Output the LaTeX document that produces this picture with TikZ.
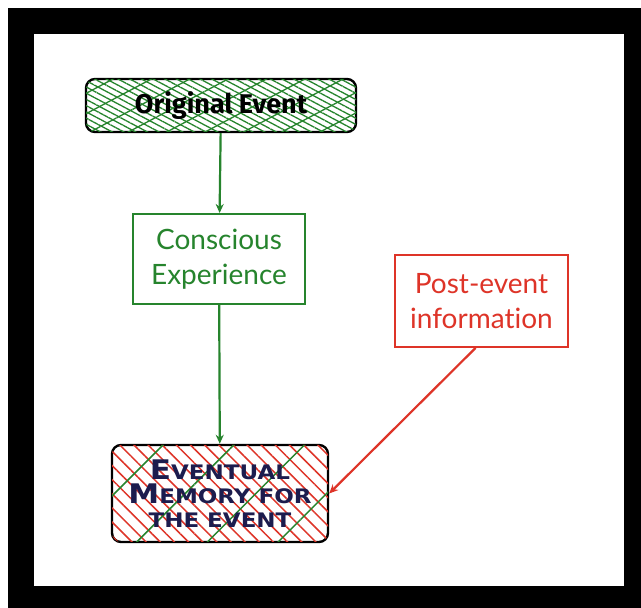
\documentclass[tikz,border=0pt]{standalone}
\usepackage{fontspec}
\setmainfont{Lato}[Ligatures=NoCommon]
\newfontfamily\headfont{Fira Sans}
\newfontfamily\capsfont{DejaVu Sans}[FakeStretch=1.15]
\usetikzlibrary{arrows.meta,patterns.meta}

\definecolor{evgreen}{RGB}{38,132,45}
\definecolor{evred}{RGB}{222,52,40}
\definecolor{evnavy}{RGB}{28,28,78}

\newcommand{\bigsc}[2]{{\fontsize{27}{24}\selectfont #1}{\fontsize{20}{24}\selectfont #2}}

\begin{document}
\begin{tikzpicture}[x=1pt,y=1pt,line width=2pt,
  greenbox/.style={draw=evgreen,text=evgreen,minimum width=172,minimum height=90,
    font=\fontsize{28}{35}\selectfont,align=center,inner sep=0pt},
  redbox/.style={draw=evred,text=evred,minimum width=173,minimum height=92,
    font=\fontsize{28}{35}\selectfont,align=center,inner sep=0pt},
  hatchbox/.style={draw=black,rounded corners=9,line width=2.4pt,inner sep=0pt},
  flow/.style={-{Stealth[length=9pt,width=8pt]},line width=2.2pt}]

  % frame
  \fill[white] (0,0) rectangle (641,608);
  \fill[black] (8,0) rectangle (641,600);
  \fill[white] (34,22) rectangle (624,574);

  \node[hatchbox,minimum width=270,minimum height=53,
    preaction={fill=white},
    postaction={pattern={Lines[angle=-28,distance=5.5pt,line width=1.3pt]},pattern color=evgreen},
    postaction={pattern={Lines[angle=28,distance=18pt,line width=1.3pt]},pattern color=evgreen},
    font=\headfont\bfseries\fontsize{27}{28}\selectfont]
    (orig) at (221,502.5) {Original Event};

  \node[greenbox] (consc) at (219,349) {Conscious\\Experience};

  \node[redbox] (post) at (481.5,307) {Post-event\\information};

  \node[hatchbox,minimum width=216,minimum height=97,
    preaction={fill=white},
    postaction={pattern={Lines[angle=-45,distance=10pt,line width=1.5pt]},pattern color=evred},
    postaction={pattern={Lines[angle=45,distance=50pt,line width=1.5pt]},pattern color=evgreen},
    text=evnavy,align=center,font=\capsfont\bfseries\fontsize{20}{24}\selectfont]
    (mem) at (220,114.5)
    {\bigsc{E}{VENTUAL}\\\bigsc{M}{EMORY FOR}\\THE EVENT};

  \draw[flow,evgreen] (orig) -- (consc);
  \draw[flow,evgreen] (consc) -- (mem);
  \draw[flow,evred] ([xshift=-6]post.south) -- (mem.east);
\end{tikzpicture}
\end{document}
